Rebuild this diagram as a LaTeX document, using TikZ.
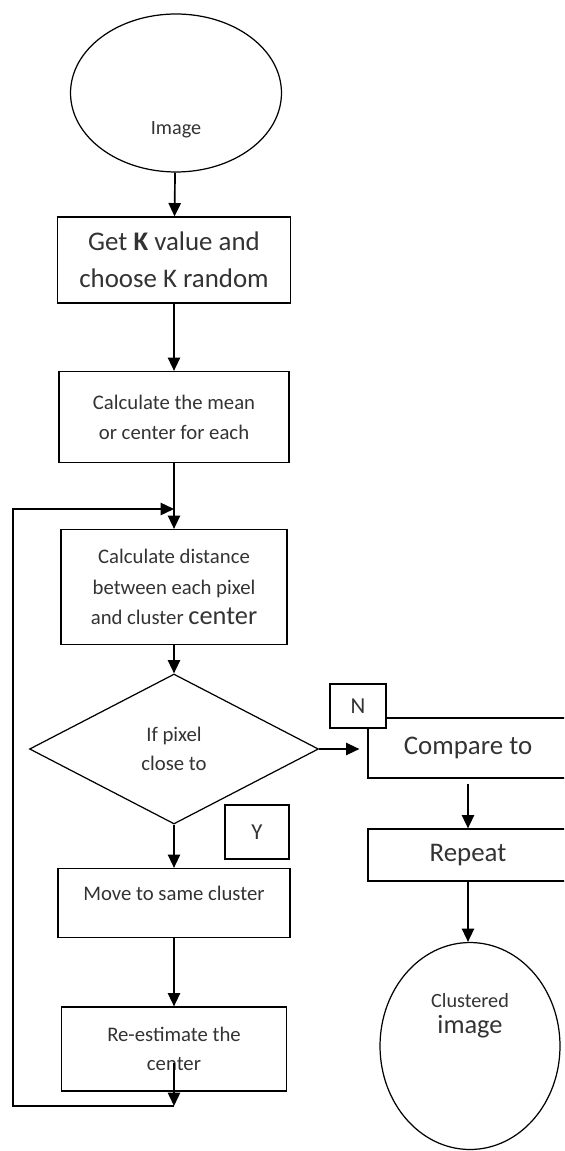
\documentclass[tikz,border=0pt]{standalone}
\usepackage{fontspec}
\setmainfont{Carlito}
\usetikzlibrary{shapes.geometric,arrows.meta}

\begin{document}
\begin{tikzpicture}[x=0.02cm,y=-0.02cm,
    >={Triangle[length=7.6pt,width=7pt]},
    box/.style={draw,line width=0.7pt,align=center,inner sep=0pt,text=black!80,font=\fontsize{11.8}{17}\selectfont},
    big/.style={font=\fontsize{15.3}{21}\selectfont},
    line/.style={line width=0.95pt}]
  \clip (0,0) rectangle (564,1151);

  % left column
  \node [box,ellipse,minimum width=4.22cm,minimum height=3.16cm,
         label={[text=black!80,font=\fontsize{11.5}{13}\selectfont,yshift=-0.74cm]center:Image}] (1) at (176,93) {};
  \node [box,big,minimum width=4.66cm,minimum height=1.72cm] (2) at (174,260) {Get \textbf{K} value and\\choose K random};
  \node [box,minimum width=4.6cm,minimum height=1.82cm] (3) at (174,417) {Calculate the mean\\or center for each};
  \node [box,minimum width=4.52cm,minimum height=2.3cm,font=\fontsize{11.8}{17.5}\selectfont] (4) at (174,587) {Calculate distance\\between each pixel\\and cluster {\fontsize{15}{17.5}\selectfont center}};
  \node [box,diamond,minimum width=5.78cm,minimum height=3cm,font=\fontsize{11.8}{16.5}\selectfont] (5) at (174,749) {If pixel\\close to};
  \node [box,minimum width=1.28cm,minimum height=1.08cm,font=\fontsize{13}{15}\selectfont] (6) at (257,832) {Y};
  \node [box,minimum width=4.64cm,minimum height=1.38cm] (7) at (174,903) {Move to same cluster\\[-6pt]\mbox{}};
  \node [box,minimum width=4.5cm,minimum height=1.68cm,font=\fontsize{11.8}{16.5}\selectfont] (8) at (174,1049) {Re-estimate the\\center};

  % right column
  \node [box,big,minimum width=4cm,minimum height=1.2cm] (9) at (468,748) {Compare to};
  \node [box,fill=white,minimum width=1.12cm,minimum height=0.88cm,font=\fontsize{13}{15}\selectfont] (10) at (358,706) {N};
  \node [box,big,minimum width=4cm,minimum height=1.04cm] (11) at (468,855) {Repeat};
  \node [box,ellipse,minimum width=3.6cm,minimum height=4.14cm,
         label={[align=center,text=black!80,yshift=0.6cm]center:{\fontsize{11.5}{13}\selectfont Clustered}\\[3pt]{\fontsize{15}{17}\selectfont image}}] (12) at (470,1046) {};

  \coordinate (13) at (174,1106);
  \coordinate (14) at (13,1106);
  \coordinate (15) at (13,509);
  \coordinate (16) at (174,509);

  \draw[->,line] (1) -- (2);
  \draw[->,line] (2) -- (3);
  \draw[->,line] (3) -- (4);
  \draw[->,line] (4) -- (5);
  \draw[->,line] (5) -- (7);
  \draw[->,line] (7) -- (8);
  \draw[->,line] ([yshift=-0.28cm]8.center) -- (13);
  \draw[->,line] (13) -- (14) -- (15) -- (16);
  \draw[->,line,shorten >=0.16cm] (5.east) -- (5.east -| 9.west);
  \draw[->,line,shorten <=0.1cm] (9) -- (11);
  \draw[->,line] (11) -- (11 |- 12.north);
\end{tikzpicture}
\end{document}
